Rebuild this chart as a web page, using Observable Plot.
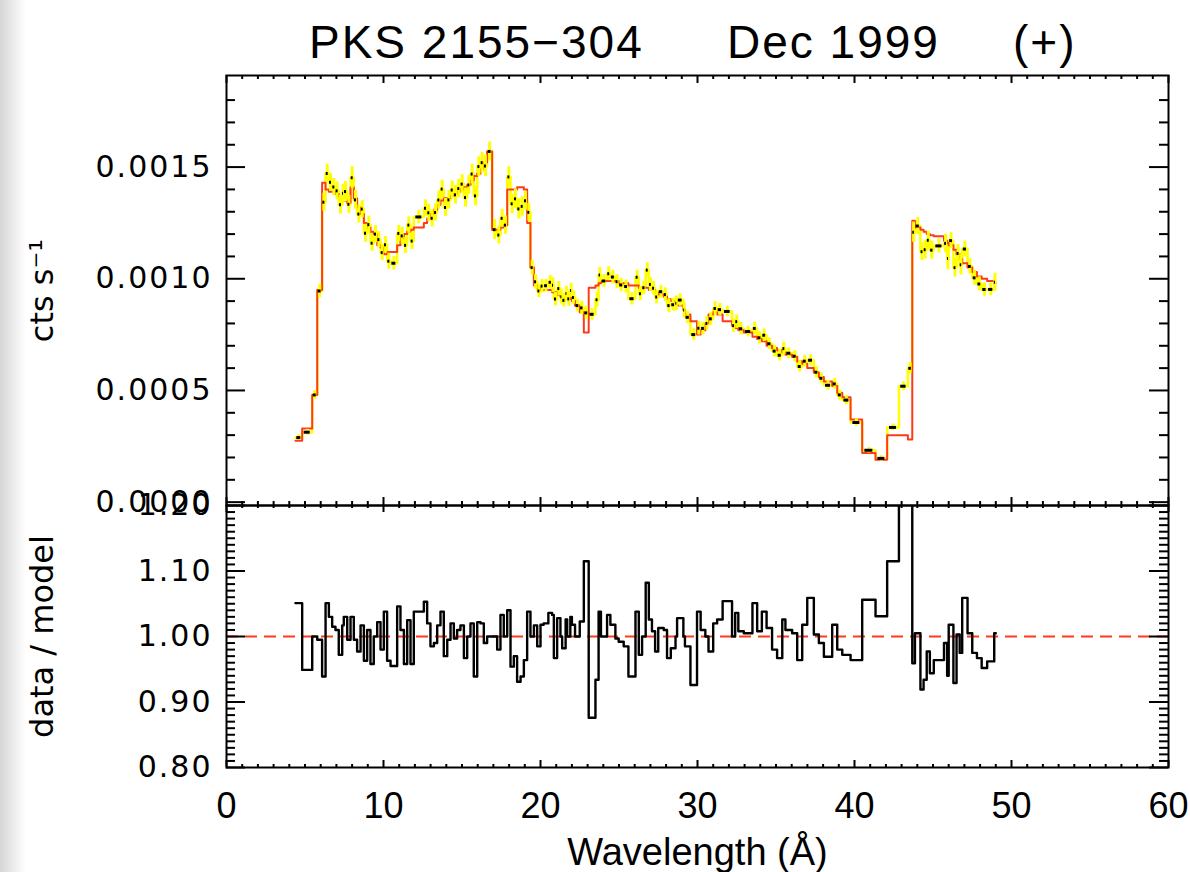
<!DOCTYPE html>
<html><head><meta charset="utf-8">
<script src="https://cdn.jsdelivr.net/npm/d3@7"></script>
<script src="https://cdn.jsdelivr.net/npm/@observablehq/plot@0.6"></script>
<style>
html,body{margin:0;padding:0;}
body{width:1190px;height:872px;overflow:hidden;position:relative;
 background:linear-gradient(to right,#d6d6d6 0px,#e6e6e6 10px,#f3f3f3 18px,#ffffff 26px);}
#top,#bot{position:absolute;left:0;}
#top{top:0px;}
#bot{top:500px;}
.title{position:absolute;top:19px;font-family:"Liberation Sans",Arial,sans-serif;font-size:46px;letter-spacing:2px;white-space:pre;line-height:1;color:#000;}
svg g[aria-label="y-axis tick label"] text{letter-spacing:2px;}
</style></head>
<body>
<div id="top"></div>
<div id="bot"></div>
<div class="title" style="left:309px">PKS 2155−304</div>
<div class="title" style="left:727px">Dec 1999</div>
<div class="title" style="left:1013px">(+)</div>
<script>
// ---- data (wavelength bins, Å) ----
const binLo = [4.39,4.82,5.46,5.78,6.09,6.31,6.52,6.73,6.94,7.15,
7.37,7.47,7.69,7.90,8.11,8.32,8.54,8.75,8.96,9.17,
9.38,9.60,9.81,10.02,10.23,10.45,10.87,11.08,11.30,11.51,
11.72,11.93,12.57,12.78,12.99,13.21,13.42,13.63,13.84,14.06,
14.27,14.48,14.69,14.90,15.12,15.33,15.54,15.75,15.97,16.18,
16.39,16.60,16.92,17.24,17.45,17.66,17.88,18.09,18.30,18.51,
18.73,18.94,19.15,19.36,19.58,19.79,20.00,20.20,20.50,20.74,
20.85,21.06,21.27,21.38,21.60,21.70,21.90,22.00,22.20,22.50,
22.76,23.07,23.50,23.70,23.85,24.24,24.45,24.77,24.98,25.30,
25.60,26.05,26.26,26.47,26.70,26.90,27.10,27.30,27.50,27.85,
28.06,28.30,28.60,28.70,29.10,29.20,29.55,29.97,30.20,30.50,
30.70,31.00,31.25,31.60,32.20,32.40,32.60,32.95,33.50,33.80,
34.10,34.40,34.75,35.07,35.40,35.60,36.03,36.35,36.67,36.99,
37.41,37.73,38.05,38.58,38.90,39.22,39.75,40.49,41.34,42.08,
42.83,43.40,43.68,43.85,44.20,44.40,44.60,44.80,45.05,45.70,
45.90,46.00,46.30,46.50,46.70,46.86,47.20,47.50,47.80,48.10,
48.45,48.90];
const lastEdge = 49.00;

// model counts, units of 1e-4 cts/s
const model = [2.75,3.30,4.80,9.50,14.3,14.0,13.9,13.9,13.8,13.7,
13.6,13.5,13.4,14.1,13.6,13.2,12.9,12.5,12.3,12.1,
12.0,11.5,11.4,11.1,11.2,11.2,11.5,11.8,12.0,12.1,
12.2,12.3,12.5,12.7,12.9,13.1,13.3,13.5,13.6,13.6,
13.7,13.8,13.9,14.0,14.1,14.2,14.4,14.6,14.7,14.9,
15.2,15.7,12.2,12.2,12.3,12.4,14.0,14.0,14.0,14.1,
14.1,14.0,12.5,10.5,9.7,9.6,9.5,9.5,9.5,9.4,
9.4,9.3,9.2,9.2,9.1,9.1,9.2,9.0,8.8,8.5,
7.6,9.6,9.7,9.8,9.9,9.9,9.9,9.9,9.8,9.8,
9.7,9.7,9.6,9.6,9.6,9.5,9.5,9.4,9.3,9.2,
9.1,9.0,8.9,8.8,8.6,8.4,8.1,7.5,7.7,8.0,
8.4,8.5,8.4,8.1,7.9,7.8,7.7,7.6,7.4,7.3,
7.2,7.0,6.9,6.8,6.7,6.6,6.5,6.3,6.2,6.0,
5.8,5.6,5.4,5.2,4.9,4.7,3.7,2.2,1.9,3.0,
3.0,2.8,12.6,12.3,12.2,12.1,12.0,11.95,11.9,11.7,
11.6,11.5,11.3,11.1,10.9,10.7,10.5,10.3,10.1,10.0,
9.9,9.8];

// data / model
const ratio = [1.051,0.949,1.000,0.995,0.939,1.051,1.030,1.015,1.010,0.972,
1.017,1.030,0.995,1.030,0.995,0.977,1.017,0.963,1.010,0.958,
1.000,1.022,0.980,1.038,0.963,0.955,1.046,1.010,0.958,1.025,
0.958,1.038,1.053,1.020,0.985,0.990,1.017,1.038,0.970,0.995,
1.020,0.997,1.010,1.017,0.967,1.000,1.020,0.939,1.022,1.020,
0.990,1.000,1.000,0.980,1.033,1.000,1.040,0.954,0.970,0.931,
0.939,0.964,1.038,1.000,1.017,0.985,1.018,1.020,1.036,1.033,
0.967,1.028,1.000,0.982,1.026,1.000,1.030,1.018,1.000,1.023,
1.115,0.876,0.934,1.038,1.000,1.033,1.018,0.997,0.992,0.985,
0.939,1.038,0.972,1.000,1.082,1.026,1.008,0.977,1.013,1.010,
0.967,0.982,1.000,1.028,1.000,0.985,0.926,1.038,1.010,1.000,
0.977,1.020,1.026,1.054,1.000,1.036,1.008,1.005,1.051,1.008,
1.038,1.013,0.980,0.967,1.026,1.010,1.005,0.964,1.018,1.059,
1.003,0.990,0.969,1.018,0.980,0.972,0.964,1.056,1.031,1.115,
1.730,2.140,0.959,1.005,0.919,0.934,0.977,0.944,0.964,0.990,
0.940,1.018,0.929,1.003,0.975,1.059,1.005,0.975,0.967,0.952,
0.962,1.005];

// data error, units of 1e-4 cts/s
const dataErr = [0.12,0.13,0.2,0.3,0.4,0.42,0.4,0.38,0.4,0.42,
0.4,0.45,0.4,0.5,0.42,0.4,0.38,0.4,0.38,0.36,
0.38,0.36,0.35,0.37,0.36,0.3,0.36,0.38,0.36,0.37,
0.38,0.3,0.37,0.38,0.38,0.39,0.4,0.4,0.4,0.41,
0.4,0.42,0.41,0.42,0.43,0.42,0.44,0.45,0.44,0.46,
0.48,0.42,0.45,0.4,0.4,0.41,0.45,0.44,0.44,0.45,
0.44,0.42,0.4,0.33,0.32,0.3,0.3,0.28,0.3,0.33,
0.3,0.31,0.33,0.3,0.32,0.33,0.32,0.3,0.28,0.3,
0.3,0.26,0.32,0.33,0.28,0.31,0.3,0.31,0.3,0.29,
0.28,0.32,0.31,0.3,0.33,0.31,0.3,0.31,0.28,0.3,
0.31,0.29,0.33,0.28,0.33,0.28,0.26,0.3,0.28,0.3,
0.29,0.3,0.28,0.24,0.3,0.3,0.28,0.24,0.28,0.27,
0.28,0.26,0.26,0.26,0.28,0.24,0.25,0.25,0.26,0.25,
0.25,0.24,0.22,0.24,0.22,0.2,0.16,0.12,0.12,0.15,
0.2,0.25,0.45,0.38,0.4,0.42,0.4,0.4,0.32,0.42,
0.5,0.36,0.42,0.4,0.46,0.36,0.34,0.34,0.32,0.3,
0.28,0.4];

// axis ticks
const xMajorTicks = [0,10,20,30,40,50,60];
const yTopTicks = [0,0.0005,0.0010,0.0015];
const yBotTicks = [0.80,0.90,1.00,1.10,1.20];

// ---- build table ----
const binHi = binLo.slice(1).concat([lastEdge]);
const bins = binLo.map((lo,i)=>({
  lo, hi:binHi[i], mid:(lo+binHi[i])/2,
  model:model[i]*1e-4, ratio:ratio[i],
  data:model[i]*ratio[i]*1e-4, err:dataErr[i]*1e-4
}));
const stepPts = bins.concat([{...bins[bins.length-1], lo:lastEdge}]);

const RED = "#ff3a1a", YEL = "#ffff00";
const W = 1190, ML = 226, MR = 22;
const innerW = W-ML-MR;
const xMinor = d3.range(0,61,1).filter(v=>v%10!==0);

function frameTicks(innerH, xMajLen, xMinLen, yMaj, yMin, yMajLen, yMinLen){
  const s = {stroke:"black", strokeWidth:2};
  return [
    Plot.tickX(xMajorTicks,{x:d=>d, insetTop:innerH-xMajLen, ...s}),
    Plot.tickX(xMajorTicks,{x:d=>d, insetBottom:innerH-xMajLen, ...s}),
    Plot.tickX(xMinor,{x:d=>d, insetTop:innerH-xMinLen, ...s}),
    Plot.tickX(xMinor,{x:d=>d, insetBottom:innerH-xMinLen, ...s}),
    Plot.tickY(yMaj,{y:d=>d, insetRight:innerW-yMajLen, ...s}),
    Plot.tickY(yMaj,{y:d=>d, insetLeft:innerW-yMajLen, ...s}),
    Plot.tickY(yMin,{y:d=>d, insetRight:innerW-yMinLen, ...s}),
    Plot.tickY(yMin,{y:d=>d, insetLeft:innerW-yMinLen, ...s}),
    Plot.frame({stroke:"black", strokeWidth:2})
  ];
}

// ---- top panel ----
const topH = 510, topMT = 75, topMB = 5;
const yTopMinor = d3.range(1,19).filter(i=>i%5!==0).map(i=>i*0.0001);
const topPlot = Plot.plot({
  width:W, height:topH,
  marginLeft:ML, marginRight:MR, marginTop:topMT, marginBottom:topMB,
  style:{background:"transparent", fontFamily:"'DejaVu Sans', sans-serif", overflow:"visible"},
  x:{domain:[0,60], axis:null, label:null},
  y:{domain:[-0.000015,0.00191], axis:null, label:null},
  marks:[
    Plot.line(stepPts,{x:"lo", y:"data", curve:"step-after", stroke:YEL, strokeWidth:2.5}),
    Plot.line(stepPts,{x:"lo", y:"model", curve:"step-after", stroke:RED, strokeWidth:2}),
    Plot.ruleX(bins,{x:"mid", y1:d=>d.data-d.err, y2:d=>d.data+d.err, stroke:YEL, strokeWidth:3}),
    Plot.ruleY(bins,{y:"data", x1:d=>d.lo+0.2*(d.hi-d.lo), x2:d=>d.hi-0.2*(d.hi-d.lo), stroke:"black", strokeWidth:3}),
    ...frameTicks(topH-topMT-topMB, 8, 4, yTopTicks, yTopMinor, 19, 9),
    Plot.axisY(yTopTicks,{tickSize:0, tickPadding:14, label:null, tickFormat:d3.format(".4f"), fontSize:30, fontFamily:"'DejaVu Sans', sans-serif"}),
    Plot.text(["cts s⁻¹"],{frameAnchor:"left", textAnchor:"middle", dx:-184, rotate:-90, fontSize:32, fontFamily:"'DejaVu Sans', sans-serif"})
  ]
});
document.getElementById("top").appendChild(topPlot);

// ---- bottom panel ----
const botH = 372, botMT = 5, botMB = 105;
const yBotMinor = d3.range(81,120).filter(i=>i%10!==0).map(i=>i/100);
const botPlot = Plot.plot({
  width:W, height:botH,
  marginLeft:ML, marginRight:MR, marginTop:botMT, marginBottom:botMB,
  style:{background:"transparent", fontFamily:"'DejaVu Sans', sans-serif", overflow:"visible"},
  x:{domain:[0,60], axis:null, label:null},
  y:{domain:[0.8,1.2], axis:null, label:null},
  marks:[
    Plot.ruleY([1],{stroke:RED, strokeWidth:2, strokeDasharray:"12,7"}),
    Plot.line(stepPts,{x:"lo", y:"ratio", curve:"step-after", stroke:"black", strokeWidth:2.4, clip:true}),
    ...frameTicks(botH-botMT-botMB, 7, 3, yBotTicks, yBotMinor, 19, 9),
    Plot.axisY(yBotTicks,{tickSize:0, tickPadding:14, label:null, tickFormat:d3.format(".2f"), fontSize:30, fontFamily:"'DejaVu Sans', sans-serif"}),
    Plot.axisX(xMajorTicks,{tickSize:0, tickPadding:25, label:null, tickFormat:d=>String(d), fontSize:36, fontFamily:"'Liberation Sans', Arial, sans-serif"}),
    Plot.text(["data / model"],{frameAnchor:"left", textAnchor:"middle", dx:-184, rotate:-90, fontSize:32, fontFamily:"'DejaVu Sans', sans-serif"}),
    Plot.text(["Wavelength (Å)"],{frameAnchor:"bottom", dy:97, fontSize:38, fontFamily:"'Liberation Sans', Arial, sans-serif"})
  ]
});
document.getElementById("bot").appendChild(botPlot);
</script>
</body></html>
